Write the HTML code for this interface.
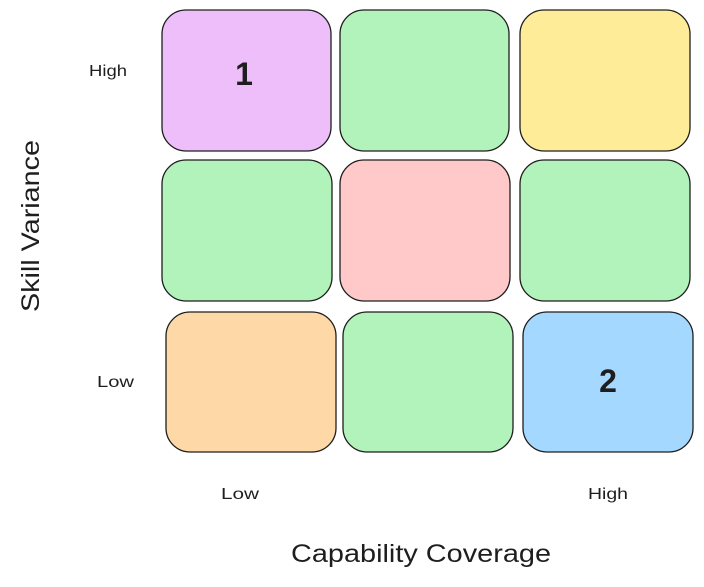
<!DOCTYPE html>
<html><head><style>
body{margin:0;width:704px;height:582px;background:#fff;overflow:hidden;font-family:"Liberation Sans",sans-serif;}
</style></head><body>
<svg width="704" height="582" xmlns="http://www.w3.org/2000/svg">
<g stroke="#1e1e1e" stroke-width="1.3">
<rect x="162" y="10" width="169" height="141" rx="24" fill="#eebefa"/>
<rect x="340" y="10" width="169" height="141" rx="24" fill="#b2f2bb"/>
<rect x="520" y="10" width="170" height="141" rx="24" fill="#ffec99"/>
<rect x="162" y="160" width="170" height="141" rx="24" fill="#b2f2bb"/>
<rect x="340" y="160" width="170" height="141" rx="24" fill="#ffc9c9"/>
<rect x="520" y="160" width="170" height="141" rx="24" fill="#b2f2bb"/>
<rect x="166" y="312" width="170" height="140" rx="24" fill="#ffd8a8"/>
<rect x="343" y="312" width="170" height="140" rx="24" fill="#b2f2bb"/>
<rect x="523" y="312" width="170" height="140" rx="24" fill="#a5d8ff"/>
</g>
<g fill="#1e1e1e" font-family="Liberation Sans, sans-serif">
<text x="244" y="85" font-size="32" text-anchor="middle" font-weight="bold">1</text>
<text x="608" y="392" font-size="32" text-anchor="middle" font-weight="bold">2</text>
<text x="89" y="76" font-size="16" textLength="38" lengthAdjust="spacingAndGlyphs">High</text>
<text x="97" y="387" font-size="16" textLength="37" lengthAdjust="spacingAndGlyphs">Low</text>
<text x="221" y="499" font-size="16" textLength="38" lengthAdjust="spacingAndGlyphs">Low</text>
<text x="588" y="499" font-size="16" textLength="40" lengthAdjust="spacingAndGlyphs">High</text>
<text x="291" y="562" font-size="25" textLength="260" lengthAdjust="spacingAndGlyphs">Capability Coverage</text>
<text transform="translate(39,312) rotate(-90)" font-size="25" textLength="172" lengthAdjust="spacingAndGlyphs">Skill Variance</text>
</g>
</svg>
</body></html>
